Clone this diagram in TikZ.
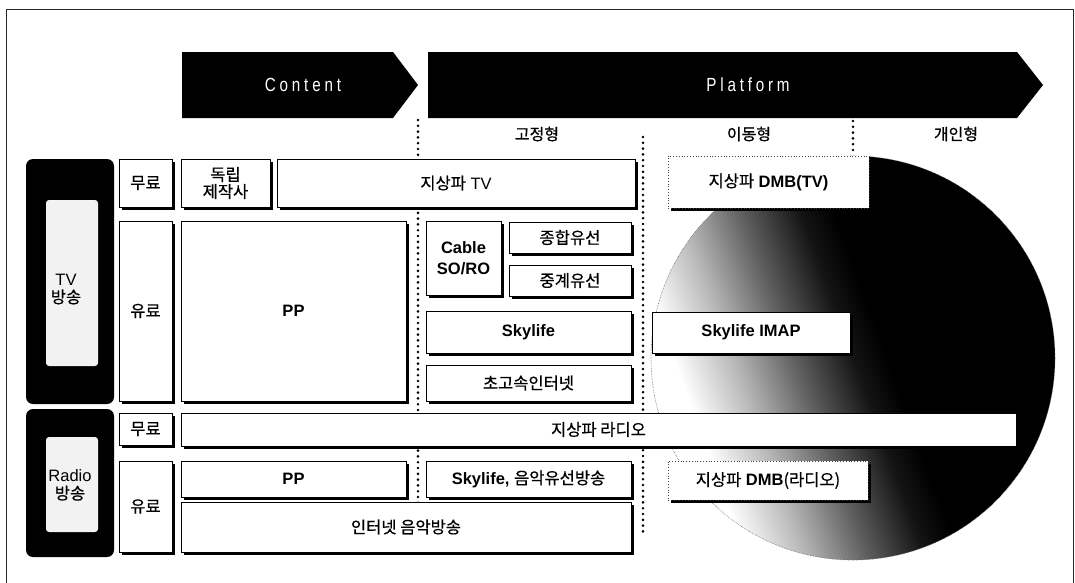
\documentclass[tikz,border=0pt]{standalone}
\usepackage{fontspec}
\setmainfont{Liberation Sans}
\newfontfamily\kr[FakeBold=0.6]{Noto Sans CJK KR}
\newfontfamily\condf[FakeStretch=0.8,LetterSpace=20]{Liberation Sans}
\usetikzlibrary{shadows}
\pgfdeclarehorizontalshading{circshade}{100bp}{color(0bp)=(white); color(29bp)=(white); color(36bp)=(black!28); color(43bp)=(black!62); color(50bp)=(black!92); color(54bp)=(black); color(100bp)=(black)}
\begin{document}
\begin{tikzpicture}[x=1pt,y=-1pt,
  every node/.style={font=\fontsize{16.5}{20}\selectfont, inner sep=0pt},
  box/.style={draw=black, line width=0.8pt, fill=white, align=center,
    drop shadow={shadow xshift=3pt, shadow yshift=-3pt, opacity=1, fill=black}},
  dotbox/.style={draw=black!75, dotted, line width=0.8pt, fill=white, align=center,
    drop shadow={shadow xshift=3pt, shadow yshift=-3pt, opacity=1, fill=black}},
  blk/.style={fill=black, rounded corners=7pt},
  innerpatch/.style={fill=black!5, rounded corners=3pt},
  sep/.style={line width=2.9pt, dash pattern=on 0pt off 5.8pt, line cap=round},
  bannertext/.style={text=white, font=\condf\fontsize{19}{22}\selectfont},
  lbl/.style={font=\kr\fontsize{16}{20}\selectfont}
]
\useasboundingbox (0,0) rectangle (1075,582);
% frame
\coordinate (fbl) at (6,600);
\coordinate (ftl) at (6,9);
\coordinate (ftr) at (1073,9);
\coordinate (fbr) at (1073,600);
\draw[line width=0.8pt, black!85] (fbl) -- (ftl) -- (ftr) -- (fbr);

% banners
\fill[black] (182,52) -- (393,52) -- (418,85) -- (393,118) -- (182,118) -- cycle;
\fill[black] (428,52) -- (1017,52) -- (1043,85) -- (1017,118) -- (428,118) -- cycle;
\node[bannertext] (content) at (303,85) {Content};
\node[bannertext] (platform) at (748,85) {Platform};

% column labels
\node[lbl] (fixed) at (537,134) {고정형};
\node[lbl] (mobile) at (749,134) {이동형};
\node[lbl] (personal) at (956,134) {개인형};

% circle
\shade[shading=circshade, shading angle=20] (853,358) circle[radius=202pt];
\draw[black!60, densely dotted, line width=0.6pt] (853,358) circle[radius=202pt];

% separators
\coordinate (s1a) at (418,120); \coordinate (s1b) at (418,504);
\coordinate (s2a) at (643,137); \coordinate (s2b) at (643,537);
\coordinate (s3a) at (853,121); \coordinate (s3b) at (853,154);
\draw[sep] (s1a) -- (s1b);
\draw[sep] (s2a) -- (s2b);
\draw[sep] (s3a) -- (s3b);

% category blocks
\node[blk, minimum width=88pt, minimum height=245pt] (tvblk) at (70,281.5) {};
\node[innerpatch, minimum width=52pt, minimum height=166pt] (tvin) at (72,283) {};
\node[align=center] (tvtxt) at (66,289) {TV\\[-2pt]{\kr 방송}};
\node[blk, minimum width=88pt, minimum height=148pt] (rdblk) at (70,483) {};
\node[innerpatch, minimum width=52pt, minimum height=95pt] (rdin) at (72,484.5) {};
\node[align=center] (rdtxt) at (70,485) {Radio\\[-2pt]{\kr 방송}};

% free / paid labels
\node[box, minimum width=53pt, minimum height=48pt] (tvfree) at (145.5,183) {\kr 무료};
\node[box, minimum width=53pt, minimum height=180pt] (tvpaid) at (145.5,311) {\kr 유료};
\node[box, minimum width=53pt, minimum height=32pt] (rdfree) at (145.5,429) {\kr 무료};
\node[box, minimum width=53pt, minimum height=91pt] (rdpaid) at (145.5,506.5) {\kr 유료};

% TV rows
\node[box, minimum width=89pt, minimum height=48pt] (indep) at (225.5,183) {\kr 독립\\[-3pt]\kr 제작사};
\node[box, minimum width=358pt, minimum height=48pt] (tvterr) at (456,183) {{\kr 지상파} TV};
\node[box, minimum width=225pt, minimum height=180pt] (pp) at (293.5,311) {\textbf{PP}};
\node[box, minimum width=75pt, minimum height=74pt] (cable) at (463.5,258) {\textbf{Cable}\\[1pt]\textbf{SO/RO}};
\node[box, minimum width=122pt, minimum height=31pt] (mso) at (570,237.5) {\kr 종합유선};
\node[box, minimum width=122pt, minimum height=31pt] (relay) at (570,280.5) {\kr 중계유선};
\node[box, minimum width=205pt, minimum height=42pt] (sky) at (528.5,332) {\textbf{Skylife}};
\node[box, minimum width=205pt, minimum height=36pt] (inet) at (528.5,383) {\kr 초고속인터넷};
\node[dotbox, minimum width=201pt, minimum height=52pt] (dmbtv) at (768.5,182) {{\kr 지상파} \textbf{DMB(TV)}};
\node[box, minimum width=198pt, minimum height=41pt] (imap) at (751,332.5) {\textbf{Skylife IMAP}};

% Radio rows
\node[box, minimum width=835pt, minimum height=33pt] (rdterr) at (598.5,429.5) {\kr 지상파 라디오};
\node[box, minimum width=225pt, minimum height=36pt] (rdpp) at (293.5,479) {\textbf{PP}};
\node[box, minimum width=205pt, minimum height=36pt] (rdsky) at (528.5,479) {\textbf{Skylife,} {\kr 음악유선방송}};
\node[box, minimum width=450pt, minimum height=50pt] (imusic) at (406,527) {\kr 인터넷 음악방송};
\node[dotbox, minimum width=200pt, minimum height=39pt] (dmbrd) at (768,480.5) {{\kr 지상파} \textbf{DMB}{\kr (라디오)}};
\end{tikzpicture}
\end{document}
